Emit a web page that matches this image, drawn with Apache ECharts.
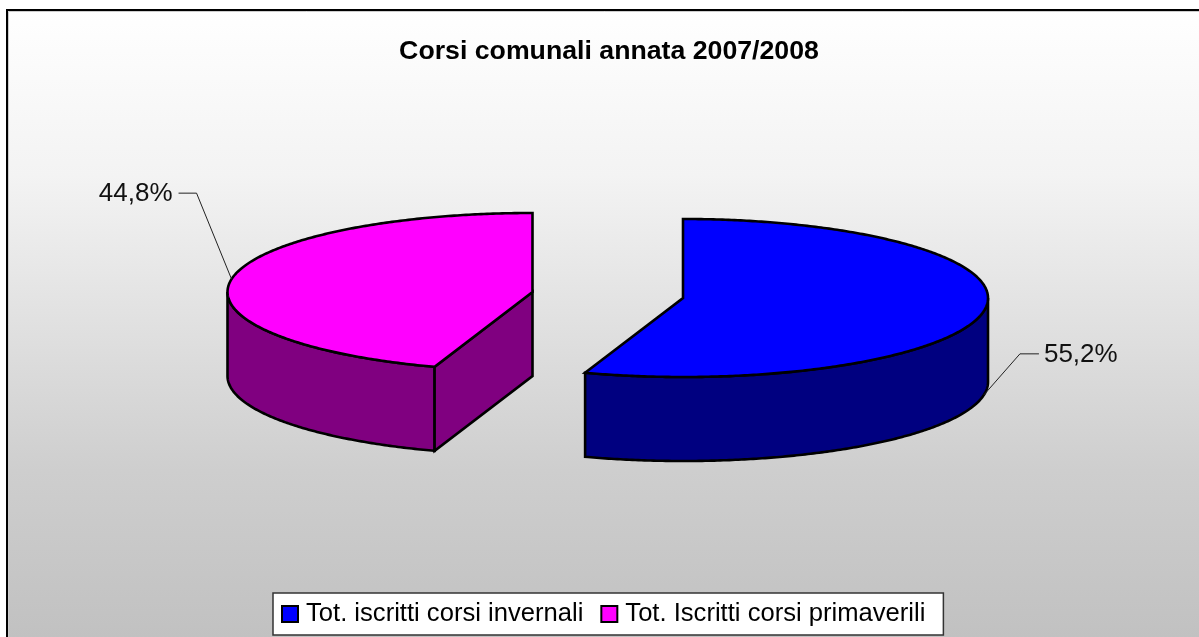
<!DOCTYPE html>
<html>
<head>
<meta charset="utf-8">
<style>html,body{margin:0;padding:0;background:#fff;overflow:hidden}#c{width:1199px;height:637px}</style>
<script src="https://cdn.jsdelivr.net/npm/echarts@6/dist/echarts.min.js"></script>
</head>
<body>
<div id="c"></div>
<script>
const titleText = 'Corsi comunali annata 2007/2008';
const categories = ['Tot. iscritti corsi invernali', 'Tot. Iscritti corsi primaverili'];
const values = [55.2, 44.8];
const pctLabels = ['55,2%', '44,8%'];
const topColors = ['#0000ff', '#ff00ff'];
const sideColors = ['#000080', '#800080'];

const total = values.reduce((a, b) => a + b, 0);
// Pie projection: every slice is exploded sideways from a shared ellipse.
const RX = 305, RY = 79, DEPTH = 84;
const centers = [[683, 298], [532.5, 292]];
const labelLayout = [
  {elbowDx: 36, elbowDy: -41, textGap: 5, align: 'left', dir: 1, len: 19, onBottom: true},
  {elbowDx: -35, elbowDy: -86, textGap: 6, align: 'right', dir: -1, len: 18, onBottom: false}
];

function rim(c, a, dz) {
  return [c[0] + Math.sin(a) * RX, c[1] - Math.cos(a) * RY + (dz || 0)];
}
function arc(c, a0, a1, dz) {
  const n = Math.max(2, Math.ceil(Math.abs(a1 - a0) / 0.01));
  const out = [];
  for (let i = 0; i <= n; i++) out.push(rim(c, a0 + (a1 - a0) * i / n, dz));
  return out;
}
const edge = {stroke: '#000', lineWidth: 2.6, lineJoin: 'miter'};

function renderSlice(idx) {
  return function (params, api) {
    const v = api.value(0);
    let before = 0;
    for (let i = 0; i < idx; i++) before += values[i];
    const a0 = before / total * Math.PI * 2;
    const a1 = (before + v) / total * Math.PI * 2;
    const c = centers[idx];
    const kids = [];
    const side = {fill: sideColors[idx], ...edge};

    // visible outer wall: lower half of the ellipse
    const w0 = Math.max(a0, Math.PI / 2), w1 = Math.min(a1, Math.PI * 1.5);
    if (w1 > w0) {
      const t = arc(c, w0, w1, 0), b = arc(c, w1, w0, DEPTH);
      kids.push({type: 'polygon', shape: {points: t.concat(b)}, style: side});
    }
    // visible cut face at the start angle
    if (Math.sin(a0) < -1e-6) {
      const r = rim(c, a0, 0);
      kids.push({type: 'polygon', shape: {points: [c, r, [r[0], r[1] + DEPTH], [c[0], c[1] + DEPTH]]}, style: side});
    }
    // top face
    kids.push({type: 'polygon', shape: {points: [c].concat(arc(c, a0, a1, 0))}, style: {fill: topColors[idx], ...edge}});

    // leader line and percentage label
    const L = labelLayout[idx];
    const mid = (a0 + a1) / 2;
    const p = rim(c, mid, L.onBottom ? DEPTH : 0);
    const e = [p[0] + L.elbowDx, p[1] + L.elbowDy];
    const q = [e[0] + L.dir * L.len, e[1]];
    kids.push({type: 'polyline', shape: {points: [p, e, q]}, style: {stroke: '#222', lineWidth: 1, fill: 'none'}});
    kids.push({type: 'text', style: {
      x: q[0] + L.dir * L.textGap, y: q[1] + 1, text: pctLabels[idx], fill: '#111',
      font: '26px "Liberation Sans"', align: L.align, verticalAlign: 'middle'
    }});
    return {type: 'group', children: kids};
  };
}

const chart = echarts.init(document.getElementById('c'), null, {renderer: 'canvas'});
chart.setOption({
  animation: false,
  backgroundColor: '#ffffff',
  title: {
    text: titleText, left: 604, top: 33, textAlign: 'center',
    textStyle: {fontFamily: 'Liberation Sans', fontWeight: 'bold', fontSize: 26.7, color: '#000'}
  },
  legend: {
    left: 273, top: 593, orient: 'horizontal',
    data: categories,
    backgroundColor: '#ffffff', borderColor: '#333', borderWidth: 1.5,
    padding: [8, 18, 8, 8], itemWidth: 16, itemHeight: 16, itemGap: 17,
    icon: 'rect',
    itemStyle: {borderColor: '#000', borderWidth: 2},
    textStyle: {fontFamily: 'Liberation Sans', fontSize: 25.6, color: '#000', padding: [1, 0, 0, 3]}
  },
  graphic: [
    {type: 'rect', z: -10, shape: {x: 7, y: 10, width: 1300, height: 640}, style: {
      fill: {type: 'linear', x: 0, y: 0, x2: 0, y2: 1, colorStops: [
        {offset: 0, color: '#ffffff'}, {offset: 0.26, color: '#f3f3f3'},
        {offset: 0.72, color: '#cecece'}, {offset: 1, color: '#c0c0c0'}]},
      stroke: '#000', lineWidth: 2}},
    {type: 'rect', z: -9, shape: {x: 8.5, y: 11.5, width: 1300, height: 640}, style: {fill: 'none', stroke: '#cccccc', lineWidth: 1}}
  ],
  series: categories.map((name, i) => ({
    type: 'custom', name, coordinateSystem: 'none', silent: true,
    itemStyle: {color: topColors[i]},
    renderItem: renderSlice(i),
    data: [[values[i]]]
  }))
});
</script>
</body>
</html>
